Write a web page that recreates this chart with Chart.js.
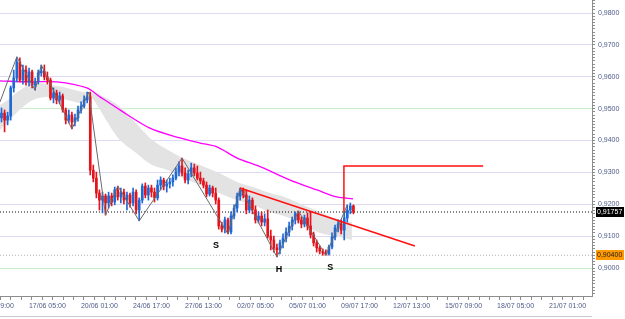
<!DOCTYPE html>
<html>
<head>
<meta charset="utf-8">
<script src="https://cdn.jsdelivr.net/npm/chart.js@4.4.1/dist/chart.umd.min.js"></script>
<style>
html, body { margin: 0; padding: 0; background: #fff; }
</style>
</head>
<body>
<canvas id="grafica" width="625" height="319"></canvas>
<script>
// velas de 4 horas (indice de barra = posicion en el eje x)
const opens = [0.9471,0.9486,0.9464,0.9477,0.9565,0.9596,0.9646,0.9590,0.9621,0.9584,
  0.9615,0.9574,0.9584,0.9612,0.9618,0.9599,0.9590,0.9533,0.9549,0.9527,
  0.9540,0.9496,0.9464,0.9480,0.9458,0.9471,0.9496,0.9508,0.9527,0.9537,
  0.9307,0.9282,0.9235,0.9213,0.9226,0.9204,0.9226,0.9207,0.9245,0.9223,
  0.9238,0.9213,0.9229,0.9204,0.9238,0.9182,0.9213,0.9257,0.9229,0.9251,
  0.9238,0.9220,0.9260,0.9276,0.9257,0.9264,0.9270,0.9282,0.9301,0.9320,
  0.9298,0.9276,0.9295,0.9314,0.9298,0.9282,0.9273,0.9260,0.9232,0.9251,
  0.9235,0.9213,0.9132,0.9122,0.9151,0.9113,0.9163,0.9188,0.9226,0.9245,
  0.9229,0.9182,0.9213,0.9182,0.9151,0.9163,0.9144,0.9154,0.9100,0.9088,
  0.9063,0.9057,0.9079,0.9094,0.9113,0.9132,0.9151,0.9170,0.9151,0.9138,
  0.9157,0.9132,0.9104,0.9079,0.9063,0.9053,0.9047,0.9044,0.9066,0.9097,
  0.9126,0.9138,0.9119,0.9157,0.9182,0.9195];
const highs = [0.9502,0.9496,0.9489,0.9571,0.9621,0.9662,0.9659,0.9637,0.9634,0.9627,
  0.9621,0.9596,0.9621,0.9637,0.9637,0.9615,0.9596,0.9565,0.9558,0.9552,
  0.9546,0.9502,0.9496,0.9489,0.9483,0.9508,0.9521,0.9540,0.9552,0.9552,
  0.9323,0.9301,0.9245,0.9238,0.9232,0.9238,0.9235,0.9254,0.9257,0.9251,
  0.9248,0.9238,0.9235,0.9251,0.9245,0.9220,0.9264,0.9267,0.9260,0.9260,
  0.9251,0.9276,0.9286,0.9282,0.9276,0.9282,0.9292,0.9314,0.9333,0.9345,
  0.9314,0.9307,0.9329,0.9326,0.9320,0.9301,0.9282,0.9270,0.9260,0.9257,
  0.9251,0.9220,0.9144,0.9160,0.9157,0.9176,0.9198,0.9235,0.9251,0.9251,
  0.9245,0.9226,0.9220,0.9195,0.9176,0.9176,0.9170,0.9182,0.9119,0.9100,
  0.9075,0.9088,0.9107,0.9126,0.9144,0.9160,0.9176,0.9179,0.9160,0.9166,
  0.9173,0.9176,0.9113,0.9088,0.9069,0.9060,0.9057,0.9072,0.9110,0.9135,
  0.9151,0.9151,0.9176,0.9198,0.9204,0.9198];
const lows = [0.9458,0.9427,0.9449,0.9464,0.9552,0.9584,0.9584,0.9577,0.9574,0.9571,
  0.9565,0.9558,0.9577,0.9602,0.9590,0.9577,0.9527,0.9518,0.9515,0.9515,
  0.9489,0.9452,0.9455,0.9436,0.9446,0.9461,0.9486,0.9502,0.9518,0.9292,
  0.9270,0.9220,0.9182,0.9173,0.9166,0.9188,0.9195,0.9198,0.9213,0.9204,
  0.9201,0.9182,0.9191,0.9195,0.9170,0.9148,0.9204,0.9220,0.9213,0.9223,
  0.9207,0.9213,0.9245,0.9245,0.9238,0.9251,0.9257,0.9276,0.9289,0.9289,
  0.9267,0.9264,0.9286,0.9289,0.9276,0.9264,0.9251,0.9223,0.9226,0.9223,
  0.9201,0.9122,0.9113,0.9110,0.9107,0.9107,0.9154,0.9176,0.9213,0.9220,
  0.9170,0.9173,0.9170,0.9141,0.9141,0.9132,0.9132,0.9094,0.9057,0.9050,
  0.9035,0.9044,0.9063,0.9082,0.9100,0.9119,0.9138,0.9141,0.9126,0.9129,
  0.9119,0.9094,0.9069,0.9050,0.9044,0.9040,0.9040,0.9040,0.9060,0.9088,
  0.9113,0.9107,0.9088,0.9144,0.9170,0.9170];
const closes = [0.9486,0.9464,0.9477,0.9565,0.9596,0.9646,0.9590,0.9621,0.9584,0.9615,
  0.9574,0.9584,0.9612,0.9618,0.9599,0.9590,0.9533,0.9549,0.9527,0.9540,
  0.9496,0.9464,0.9480,0.9458,0.9471,0.9496,0.9508,0.9527,0.9537,0.9307,
  0.9282,0.9235,0.9213,0.9226,0.9204,0.9226,0.9207,0.9245,0.9223,0.9238,
  0.9213,0.9229,0.9204,0.9238,0.9182,0.9213,0.9257,0.9229,0.9251,0.9238,
  0.9220,0.9260,0.9276,0.9257,0.9264,0.9270,0.9282,0.9301,0.9320,0.9298,
  0.9276,0.9295,0.9314,0.9298,0.9282,0.9273,0.9260,0.9232,0.9251,0.9235,
  0.9213,0.9132,0.9122,0.9151,0.9113,0.9163,0.9188,0.9226,0.9245,0.9229,
  0.9182,0.9213,0.9182,0.9151,0.9163,0.9144,0.9154,0.9100,0.9088,0.9063,
  0.9057,0.9079,0.9094,0.9113,0.9132,0.9151,0.9170,0.9151,0.9138,0.9157,
  0.9132,0.9104,0.9079,0.9063,0.9053,0.9047,0.9044,0.9066,0.9097,0.9126,
  0.9138,0.9119,0.9157,0.9182,0.9195,0.91757];

// media movil (magenta)
const maIdx = [-0.5, 9.3, 18.1, 27.9, 32.2, 38.7, 48.5, 58.3, 64.9, 70.4, 77, 84.5, 94.3, 103.1, 109.6, 114.9];
const maPrice = [0.9587, 0.9584, 0.9584, 0.9565, 0.9537, 0.9496, 0.9439, 0.9408, 0.9392, 0.9380, 0.9345, 0.9318, 0.9276, 0.9245, 0.9223, 0.9217];

// banda gris
const bandIdx = [-0.5, 2.1, 5.1, 10.3, 15.9, 21.4, 26.6, 28.9, 30.6, 38.1, 43.6, 49.2, 54.4, 59.3, 64.9, 70.4, 77, 82.2, 87.7, 93.3, 98.5, 104.1, 110.6, 114.5];
const bandTop = [0.9511, 0.9527, 0.9552, 0.9580, 0.9574, 0.9565, 0.9552, 0.9549, 0.9549, 0.9511, 0.9458, 0.9402, 0.9370, 0.9345, 0.9323, 0.9301, 0.9270, 0.9254, 0.9235, 0.9220, 0.9198, 0.9176, 0.9151, 0.9144];
const bandBottom = [0.9433, 0.9458, 0.9489, 0.9527, 0.9537, 0.9527, 0.9518, 0.9540, 0.9521, 0.9408, 0.9364, 0.9323, 0.9307, 0.9282, 0.9260, 0.9238, 0.9213, 0.9198, 0.9176, 0.9160, 0.9135, 0.9110, 0.9097, 0.9088];

// zigzag
const zigIdx = [-0.5, 5, 11, 13, 23, 28.5, 34, 38, 45, 59, 74, 78, 90, 97, 106, 113];
const zigPrice = [0.9521, 0.9662, 0.9558, 0.9637, 0.9436, 0.9552, 0.9166, 0.9257, 0.9148, 0.9345, 0.9107, 0.9251, 0.9035, 0.9179, 0.9040, 0.9198];

// lineas rojas dibujadas
const trendIdx = [77.9, 135.1];
const trendPrice = [0.9251, 0.9069];
const targetIdx = [111.9, 111.9, 157.4];
const targetPrice = [0.91757, 0.9320, 0.9320];

// hombro-cabeza-hombro
const patIdx = [70.1, 90.7, 107.4];
const patPrice = [0.9072, 0.8994, 0.9001];
const patText = ['S', 'H', 'S'];

const lastPrice = 0.91757;
const lowLevel = 0.9040;

const tickIdx = [-2, 15, 32, 49, 66, 83, 100, 117, 134, 151, 168, 185];
const tickText = ['14/06 09:00', '17/06 05:00', '20/06 01:00', '24/06 17:00', '27/06 13:00', '02/07 05:00', '05/07 01:00',
  '09/07 17:00', '12/07 13:00', '15/07 09:00', '18/07 05:00', '21/07 01:00'];

const azul = '#1f68d6';
const rojo = '#e5131b';
const lila = '#dcdaf4';
const verde = '#c9eec9';
const fuente = { family: 'Liberation Sans', size: 7 };
const colorTexto = '#4d5a8a';

const idx = closes.map((c, i) => i);
const colorVela = (ctx) => closes[ctx.dataIndex] >= opens[ctx.dataIndex] ? azul : rojo;
const puntos = (xs, ys) => xs.map((x, k) => ({ x: x, y: ys[k] }));

const marcasX = [];
tickIdx.forEach(t => {
  marcasX.push(t);
  for (let j = 1; j < 5; j++) marcasX.push(t + 3.4 * j);
});

const extras = {
  id: 'extras',
  afterDatasetsDraw(chart) {
    const c = chart.ctx, xs = chart.scales.x, ys = chart.scales.y;
    c.save();
    c.fillStyle = '#000';
    c.font = 'bold 9px "Liberation Sans"';
    c.textAlign = 'center';
    c.textBaseline = 'middle';
    patText.forEach((t, k) => {
      c.fillText(t, xs.getPixelForValue(patIdx[k]), ys.getPixelForValue(patPrice[k]));
    });
    c.restore();
  },
  afterDraw(chart) {
    const c = chart.ctx, ys = chart.scales.y, area = chart.chartArea;
    const etiquetas = [
      { v: lastPrice, txt: lastPrice.toFixed(5), fondo: '#000', letra: '#fff' },
      { v: lowLevel, txt: lowLevel.toFixed(5), fondo: '#ff9900', letra: '#1a1a1a' }
    ];
    c.save();
    c.font = '7px "Liberation Sans"';
    c.textBaseline = 'middle';
    c.textAlign = 'left';
    etiquetas.forEach(e => {
      const y = Math.round(ys.getPixelForValue(e.v));
      c.fillStyle = e.fondo;
      c.fillRect(area.right + 4, y - 5, 28, 10);
      c.fillStyle = e.letra;
      c.fillText(e.txt.replace('.', ','), area.right + 5, y + 0.5);
    });
    // marco inferior
    c.strokeStyle = '#c8c8d0';
    c.lineWidth = 1;
    c.beginPath();
    c.moveTo(0, 316.5);
    c.lineTo(area.right, 316.5);
    c.stroke();
    c.restore();
  }
};

new Chart(document.getElementById('grafica'), {
  type: 'line',
  data: {
    datasets: [
      { data: puntos(bandIdx, bandTop), borderWidth: 0, pointRadius: 0, fill: '+1', backgroundColor: '#e3e3e3', tension: 0.3, order: 10 },
      { data: puntos(bandIdx, bandBottom), borderWidth: 0, pointRadius: 0, fill: false, tension: 0.3, order: 10 },
      { data: puntos([-0.5, 193], [lastPrice, lastPrice]), borderColor: '#000', borderWidth: 1, borderDash: [1, 2], pointRadius: 0, order: 9 },
      { data: puntos([-0.5, 193], [lowLevel, lowLevel]), borderColor: '#b0b0b0', borderWidth: 1, borderDash: [1, 2], pointRadius: 0, order: 9 },
      { data: puntos(maIdx, maPrice), borderColor: '#ff00ff', borderWidth: 1.3, pointRadius: 0, tension: 0.3, order: 8 },
      { type: 'bar', data: idx.map(i => ({ x: i, y: [lows[i], highs[i]] })), backgroundColor: colorVela, barThickness: 1, grouped: false, order: 6 },
      { type: 'bar', data: idx.map(i => ({ x: i, y: [opens[i], closes[i]] })), backgroundColor: colorVela, barThickness: 2, minBarLength: 1, grouped: false, order: 5 },
      { data: puntos(zigIdx, zigPrice), borderColor: '#6a6a6a', borderWidth: 1, pointRadius: 0, order: 4 },
      { data: puntos(trendIdx, trendPrice), borderColor: '#ff1010', borderWidth: 1.5, pointRadius: 0, order: 3 },
      { data: puntos(targetIdx, targetPrice), borderColor: '#ff1010', borderWidth: 1.5, pointRadius: 0, order: 3 }
    ]
  },
  options: {
    responsive: false,
    animation: false,
    layout: { padding: 0 },
    plugins: { legend: { display: false }, tooltip: { enabled: false } },
    scales: {
      x: {
        type: 'linear', min: -0.49, max: 192.97, offset: false,
        afterBuildTicks: s => { s.ticks = marcasX.map(v => ({ value: v })); },
        afterFit: s => { s.height = 23; s.paddingLeft = 0; s.paddingRight = 0; },
        ticks: {
          autoSkip: false, maxRotation: 0, padding: 2, font: fuente, color: colorTexto,
          callback: v => { const k = tickIdx.indexOf(v); return k >= 0 ? tickText[k] : ''; }
        },
        grid: { drawOnChartArea: false, tickLength: 4, tickColor: '#8c8c8c' },
        border: { color: '#8c8c8c' }
      },
      y: {
        type: 'linear', position: 'right', min: 0.89122, max: 0.98408,
        afterBuildTicks: s => { const t = []; for (let k = 892; k <= 984; k++) t.push({ value: k / 1000 }); s.ticks = t; },
        afterFit: s => { s.width = 33; s.paddingTop = 0; s.paddingBottom = 0; },
        ticks: {
          autoSkip: false, padding: 3, font: fuente, color: colorTexto,
          callback: v => Math.round(v * 1000) % 10 === 0 ? v.toFixed(4).replace('.', ',') : ''
        },
        grid: {
          tickLength: 3, tickColor: '#8c8c8c',
          color: ctx => {
            if (!ctx.tick) return 'transparent';
            const k = Math.round(ctx.tick.value * 1000);
            if (k % 10 !== 0) return 'transparent';
            return k % 50 === 0 ? verde : lila;
          }
        },
        border: { color: '#8c8c8c' }
      }
    }
  },
  plugins: [extras]
});
</script>
</body>
</html>
